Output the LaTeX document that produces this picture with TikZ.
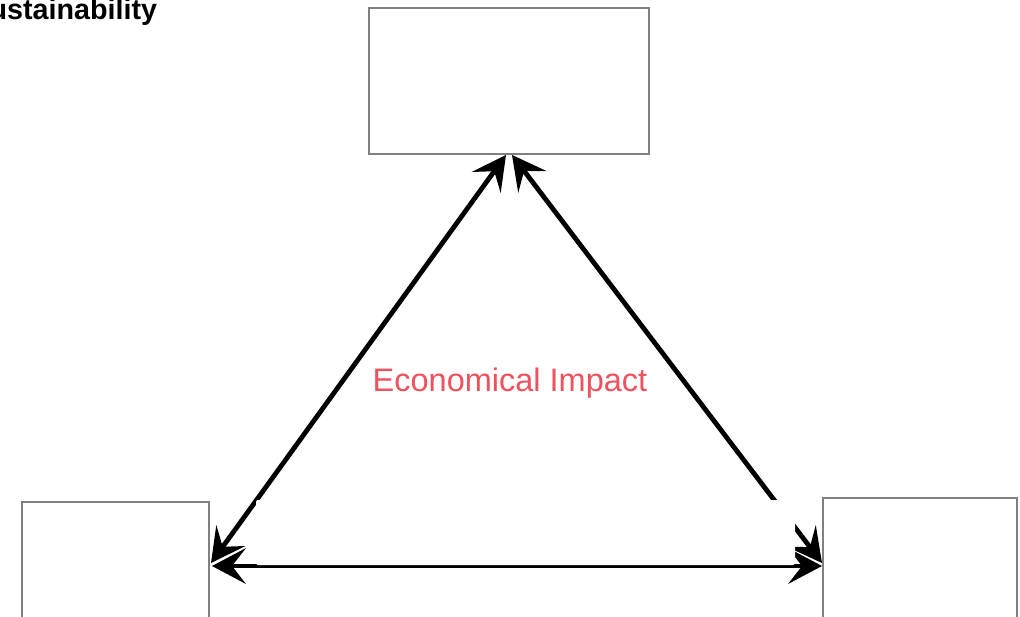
\documentclass[tikz,border=0pt]{standalone}
\usepackage{fontspec}
\setmainfont{Liberation Sans}
\usetikzlibrary{arrows.meta}
\definecolor{boxgray}{RGB}{128,128,128}
\definecolor{impactred}{RGB}{238,82,94}
\tikzset{
  plainbox/.style={draw=boxgray, line width=2pt, fill=none, inner sep=0pt, rectangle},
  link/.style={line width=4.8pt, black, {Stealth[length=34pt,width=36pt,inset=14pt,line width=0pt]}-{Stealth[length=34pt,width=36pt,inset=14pt,line width=0pt]}},
}
\begin{document}
\begin{tikzpicture}[x=1pt,y=-1pt]
\useasboundingbox (0,0) rectangle (1020,617);
\clip (0,0) rectangle (1020,617);
\fill[white] (0,0) rectangle (1020,617);
% boxes
\node[plainbox, minimum width=280pt, minimum height=146pt] (tbox) at (509,81) {};
\node[plainbox, minimum width=187pt, minimum height=140pt] (lbox) at (115.5,572) {};
\node[plainbox, minimum width=194pt, minimum height=144pt] (rbox) at (920,570) {};
% connector end points on the boxes
\coordinate (apexL) at ([xshift=-3pt]tbox.south);
\coordinate (apexR) at ([xshift=3pt]tbox.south);
\coordinate (lend) at ([xshift=1pt,yshift=-62pt]lbox.north east);
\coordinate (lbot) at ([xshift=2pt,yshift=-65pt]lbox.north east);
\coordinate (rend) at ([yshift=-66pt]rbox.north west);
\coordinate (rbot) at ([yshift=-69pt]rbox.north west);
% connectors
\draw[link] (apexL) -- (lend);
\draw[link] (apexR) -- (rend);
\draw[link] (lbot) -- (rbot);
% white patch
\fill[white, rounded corners=2pt] (256,500) rectangle (795,565);
% labels
\node[text=impactred, font=\fontsize{32.5}{36}\selectfont, inner sep=0pt] (impact) at (510,383) {Economical Impact};
\node[anchor=base west, inner sep=0pt, font=\fontsize{28.7}{32}\selectfont\bfseries] (title) at (-29.7,20) {Sustainability};
\end{tikzpicture}
\end{document}
